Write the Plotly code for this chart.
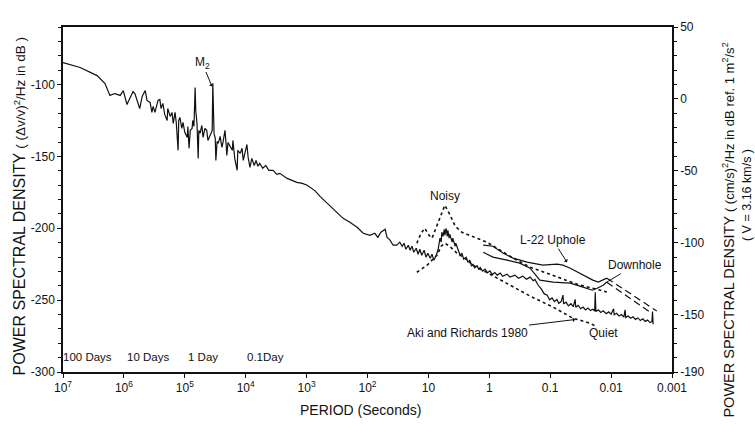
import plotly.graph_objects as go

# ---- data (log10 period in seconds, PSD in dB re (dv/v)^2/Hz) ----
main_logp = [7.00, 6.72, 6.44, 6.31, 6.23, 6.15, 6.06, 6.01, 5.95, 5.85, 5.82,
             5.74, 5.70, 5.65, 5.62, 5.57, 5.54, 5.52, 5.49, 5.46, 5.44, 5.41, 5.39, 5.36, 5.33,
             5.29, 5.28, 5.24, 5.21, 5.19, 5.16, 5.14, 5.13, 5.11, 5.10, 5.08, 5.05, 5.03, 5.00,
             4.96, 4.95, 4.93, 4.91, 4.88, 4.87, 4.85, 4.83, 4.82, 4.80, 4.78, 4.77, 4.75, 4.72,
             4.70, 4.67, 4.64, 4.62, 4.59, 4.55, 4.54, 4.52, 4.50, 4.49, 4.47, 4.45, 4.42, 4.39,
             4.37, 4.34, 4.32, 4.31, 4.29, 4.26, 4.22, 4.21, 4.18, 4.14, 4.13, 4.09, 4.06, 4.04,
             4.01, 3.98, 3.96, 3.93, 3.90, 3.86, 3.83, 3.80, 3.77, 3.72, 3.67, 3.62, 3.55, 3.49,
             3.44, 3.32, 3.16, 3.07, 2.99, 2.94, 2.86, 2.78, 2.57, 2.40,
             2.29, 2.17, 2.07, 1.96, 1.88, 1.83, 1.78, 1.71, 1.68, 1.63, 1.58, 1.52,
             1.47, 1.43, 1.40, 1.37, 1.33, 1.30, 1.27, 1.24, 1.20, 1.17, 1.14, 1.11, 1.07, 1.04,
             1.01, 0.97, 0.94, 0.91, 0.87, 0.84, 0.81, 0.79, 0.78, 0.76, 0.74, 0.73, 0.71, 0.69,
             0.68, 0.66, 0.65, 0.61, 0.60, 0.56, 0.55, 0.51, 0.48, 0.45, 0.42, 0.38, 0.35,
             0.32, 0.29, 0.27, 0.24, 0.20, 0.17, 0.15, 0.11, 0.07, 0.03, -0.01, -0.05, -0.09,
             -0.13, -0.18, -0.22, -0.29, -0.34, -0.42, -0.48, -0.55, -0.61, -0.67, -0.72, -0.75,
             -0.80, -0.85, -0.90, -0.95, -0.99, -1.03, -1.07, -1.11, -1.14, -1.18, -1.21, -1.22,
             -1.26, -1.30, -1.34, -1.38, -1.41, -1.42, -1.46, -1.50, -1.54, -1.58, -1.62, -1.66,
             -1.70, -1.73, -1.74, -1.75, -1.79, -1.83, -1.87, -1.92, -1.96, -2.00, -2.04, -2.05,
             -2.09, -2.13, -2.17, -2.21, -2.23, -2.24, -2.28, -2.32, -2.36, -2.40, -2.44, -2.48,
             -2.52, -2.56, -2.60, -2.64, -2.67, -2.68, -2.69]
main_db = [-84.7, -88.2, -93.8, -99.3, -107.6, -106.3, -107.6, -104.2, -113.9, -104.9, -106.3,
           -116.7, -108.3, -104.2, -111.1, -112.5, -119.4, -115.3, -119.4, -115.3, -111.1, -110.4,
           -116.7, -113.2, -120.8, -125.0, -116.7, -122.2, -119.4, -127.1, -119.4, -126.4, -131.9,
           -145.8, -125.0, -122.9, -130.6, -126.4, -133.3, -136.8, -129.2, -144.4, -131.9, -130.6,
           -125.0, -129.2, -102.1, -118.1, -127.1, -151.4, -131.9, -134.0, -128.5, -136.8, -130.6,
           -131.9, -138.9, -135.4, -131.9, -99.3, -134.0, -137.5, -152.8, -139.6, -140.9, -136.1,
           -143.8, -139.6, -131.9, -142.4, -149.3, -140.3, -142.4, -145.8, -138.9, -151.4, -159.7,
           -145.8, -147.9, -144.4, -152.8, -147.2, -141.7, -150.7, -157.6, -151.4, -156.3, -152.8,
           -156.9, -154.9, -158.3, -156.3, -159.7, -159.7, -162.5, -161.8, -165.3, -168.1, -168.8,
           -170.1, -171.5, -174.0, -177.8, -186.1, -193.1,
           -195.8, -199.3, -203.5, -204.9, -203.5, -206.3, -202.8, -200.7, -206.3, -208.3, -211.8,
           -211.8, -209.7, -212.5, -210.4, -214.6, -211.8, -215.3, -212.5, -216.7, -213.9, -218.1,
           -214.6, -218.8, -215.3, -220.1, -217.4, -220.8, -218.1, -222.2, -218.8, -214.6, -206.9,
           -209.7, -202.8, -205.6, -200.7, -204.9, -200.0, -205.6, -201.4, -206.9, -204.2, -209.7,
           -206.9, -212.5, -210.4, -215.9, -218.8, -217.4, -221.5, -220.1, -223.6,
           -222.2, -226.5, -224.8, -227.5, -226.0, -228.8, -227.3, -229.9, -228.5, -231.0, -229.6,
           -232.2, -230.8, -232.6, -231.2, -233.4, -231.9, -234.0, -232.6, -234.8, -233.3, -235.5,
           -234.0, -236.5, -235.6, -239.5, -242.0, -245.5, -246.5, -249.8, -248.5, -251.0, -249.5,
           -252.2, -251.0, -246.5, -252.6, -251.4, -254.0, -252.5, -254.6, -249.5, -255.0, -253.6,
           -256.0, -254.8, -256.8, -255.5, -257.3, -256.4, -257.6, -244.5, -258.0, -256.8, -258.6,
           -257.4, -259.5, -258.2, -259.8, -256.0, -260.2, -259.2, -261.0, -260.0, -261.8, -256.8,
           -262.0, -261.0, -262.6, -261.6, -263.4, -262.4, -264.2, -263.0, -264.8, -263.9, -265.6,
           -265.0, -258.0, -266.8]

noisy_logp = [1.19, 1.12, 1.06, 0.99, 0.94, 0.84, 0.73, 0.65, 0.56, 0.45, 0.27, 0.04, -0.18,
              -0.39, -0.67, -0.95, -1.21, -1.49, -1.70, -1.93]
noisy_db = [-210.4, -203.5, -200.0, -204.9, -206.9, -195.8, -184.0, -190.3, -198.6, -202.8,
            -205.6, -209.7, -215.3, -220.8, -227.1, -231.2, -235.4, -239.6, -241.7, -244.4]

quiet_logp = [1.19, 1.10, 1.02, 0.94, 0.86, 0.79, 0.73, 0.65, 0.53, 0.40, 0.27, -0.01, -0.29,
              -0.67, -1.05, -1.37, -1.65, -1.75]
quiet_db = [-230.6, -227.8, -225.7, -222.2, -218.8, -212.5, -210.4, -212.5, -217.4, -220.8,
            -225.7, -231.9, -238.2, -247.2, -254.9, -262.5, -266.0, -268.1]

uphole_logp = [0.10, -0.06, -0.23, -0.39, -0.62, -0.88, -1.11, -1.21, -1.33, -1.54, -1.70, -1.79,
               -1.87, -1.93]
uphole_db = [-211.8, -212.5, -217.4, -220.8, -223.6, -225.7, -225.0, -225.7, -227.8, -232.6,
             -236.1, -237.5, -236.1, -234.7]
uphole_ext_logp = [-1.93, -2.31, -2.75]
uphole_ext_db = [-234.7, -245.1, -257.6]

downhole_logp = [0.10, -0.06, -0.29, -0.50, -0.67, -0.83, -1.05, -1.33, -1.54, -1.69, -1.77,
                 -1.87, -1.93]
downhole_db = [-216.7, -220.1, -222.2, -224.3, -227.8, -236.1, -237.5, -238.2, -241.0, -243.1,
               -241.7, -239.6, -237.5]
downhole_ext_logp = [-1.93, -2.64]
downhole_ext_db = [-237.5, -258.3]

x_tick_exp = [7, 6, 5, 4, 3, 2, 1, 0, -1, -2, -3]
x_tick_text = ["10<sup>7</sup>", "10<sup>6</sup>", "10<sup>5</sup>", "10<sup>4</sup>",
               "10<sup>3</sup>", "10<sup>2</sup>", "10", "1", "0.1", "0.01", "0.001"]
left_ticks = [-100, -150, -200, -250, -300]
right_ticks = [50, 0, -50, -100, -150, -190]

day_labels = ["100 Days", "10 Days", "1 Day", "0.1Day"]
day_logp = [6.59, 5.60, 4.70, 3.68]

FONT = "Liberation Sans, Arial, Helvetica, sans-serif"


def per(lp):
    return [10 ** v for v in lp]


fig = go.Figure()
black = "#111111"
fig.add_trace(go.Scatter(x=per(main_logp), y=main_db, mode="lines",
                         line=dict(color=black, width=1.2), showlegend=False))
fig.add_trace(go.Scatter(x=per(noisy_logp), y=noisy_db, mode="lines",
                         line=dict(color=black, width=1.6, dash="dot"), showlegend=False))
fig.add_trace(go.Scatter(x=per(quiet_logp), y=quiet_db, mode="lines",
                         line=dict(color=black, width=1.6, dash="dot"), showlegend=False))
fig.add_trace(go.Scatter(x=per(uphole_logp), y=uphole_db, mode="lines",
                         line=dict(color=black, width=1.2), showlegend=False))
fig.add_trace(go.Scatter(x=per(downhole_logp), y=downhole_db, mode="lines",
                         line=dict(color=black, width=1.2), showlegend=False))
fig.add_trace(go.Scatter(x=per(uphole_ext_logp), y=uphole_ext_db, mode="lines",
                         line=dict(color=black, width=1.2, dash="7px,4px"), showlegend=False))
fig.add_trace(go.Scatter(x=per(downhole_ext_logp), y=downhole_ext_db, mode="lines",
                         line=dict(color=black, width=1.2, dash="7px,4px"), showlegend=False))
# invisible trace to activate the right axis
fig.add_trace(go.Scatter(x=[1e7], y=[50], yaxis="y2", mode="markers",
                         marker=dict(opacity=0), showlegend=False, hoverinfo="skip"))

fig.update_layout(
    width=755, height=437,
    margin=dict(l=63, r=83, t=27, b=65),
    paper_bgcolor="white", plot_bgcolor="white",
    font=dict(family=FONT, size=12, color=black),
    xaxis=dict(type="log", range=[7, -3], tickvals=per(x_tick_exp), ticktext=x_tick_text,
               showline=True, linecolor=black, linewidth=1.5, mirror=True, ticks="outside",
               ticklen=4, tickcolor=black, showgrid=False, zeroline=False,
               tickfont=dict(size=12)),
    yaxis=dict(range=[-300, -60], tickvals=left_ticks, ticktext=[str(v) for v in left_ticks],
               showline=True, linecolor=black, linewidth=1.5, ticks="outside", ticklen=4,
               tickcolor=black, showgrid=False, zeroline=False, tickfont=dict(size=12),
               minor=dict(dtick=10, ticklen=3, tickcolor=black, ticks="outside", showgrid=False)),
    yaxis2=dict(range=[-190, 50], overlaying="y", side="right", tickvals=right_ticks,
                ticktext=[str(v) for v in right_ticks], tickfont=dict(size=12),
                showline=True, linecolor=black, linewidth=1.5, ticks="outside", ticklen=4,
                tickcolor=black, showgrid=False, zeroline=False,
                minor=dict(dtick=10, ticklen=3, tickcolor=black, ticks="outside", showgrid=False)),
)

ann = []
# axis titles
ann.append(dict(xref="paper", yref="paper", x=0.488, y=-0.11, showarrow=False,
                xanchor="center", yanchor="middle", text="PERIOD (Seconds)", font=dict(size=14)))
ann.append(dict(xref="paper", yref="paper", x=0, y=0.48, xshift=-43, textangle=-90,
                showarrow=False, xanchor="center", yanchor="middle",
                text="POWER SPECTRAL DENSITY <span style='font-size:13.5px'>( (\u0394v/v)<sup>2</sup>/Hz in dB )</span>",
                font=dict(size=16)))
ann.append(dict(xref="paper", yref="paper", x=1, y=0.41, xshift=56, textangle=-90,
                showarrow=False, xanchor="center", yanchor="middle",
                text="POWER SPECTRAL DENSITY <span style='font-size:13px'>( (cm/s)<sup>2</sup>/Hz in dB ref. 1 m<sup>2</sup>/s<sup>2</sup></span>",
                font=dict(size=14.5)))
ann.append(dict(xref="paper", yref="paper", x=1, y=0.513, xshift=75, textangle=-90,
                showarrow=False, xanchor="center", yanchor="middle",
                text="( V = 3.16 km/s )", font=dict(size=12.5)))
# curve labels
ann.append(dict(x=4.553, y=-101.4, ax=-10, ay=-24, text="M<sub>2</sub>", showarrow=True,
                arrowhead=1, arrowsize=0.8, arrowwidth=1, arrowcolor=black, font=dict(size=12)))
ann.append(dict(x=0.727, y=-177.8, text="Noisy", showarrow=False, font=dict(size=12)))
ann.append(dict(x=-1.276, y=-223.6, ax=-14, ay=-22, text="L-22 Uphole", showarrow=True,
                arrowhead=1, arrowsize=0.8, arrowwidth=1, arrowcolor=black, font=dict(size=12)))
ann.append(dict(x=-1.90, y=-238.2, ax=30, ay=-18, text="Downhole", showarrow=True,
                arrowhead=0, arrowwidth=1, arrowcolor=black, font=dict(size=12)))
ann.append(dict(x=-1.41, y=-263.5, ax=-108, ay=13, text="Aki and Richards 1980", showarrow=True,
                arrowhead=1, arrowsize=0.8, arrowwidth=1, arrowcolor=black, font=dict(size=12)))
ann.append(dict(x=-1.867, y=-272.9, text="Quiet", showarrow=False, font=dict(size=12)))
for t, lp in zip(day_labels, day_logp):
    ann.append(dict(x=lp, y=-289.6, text=t, showarrow=False, font=dict(size=11.5)))
fig.update_layout(annotations=ann)

fig.write_html("out.html")
